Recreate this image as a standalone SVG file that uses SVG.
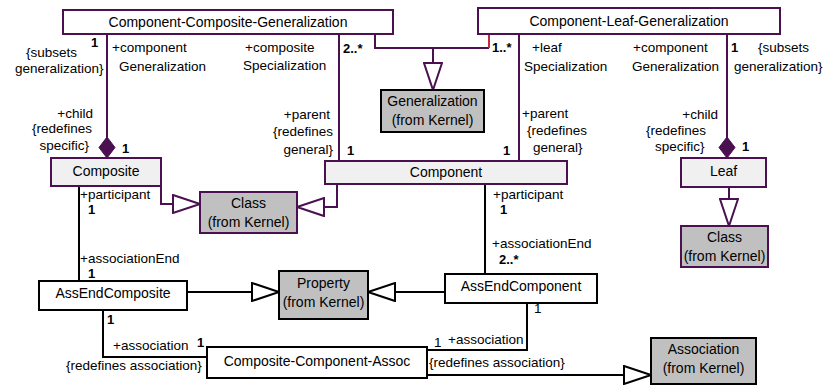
<svg xmlns="http://www.w3.org/2000/svg" width="833" height="385" viewBox="0 0 833 385">
<style>
text{font-family:"Liberation Sans",Arial,sans-serif;fill:#000}
.n{font-size:14px;text-anchor:middle}
.l{font-size:13.5px}
.e{text-anchor:end}
.m{font-size:13px;font-weight:bold}
.box{stroke-width:2}
.pw{fill:#fff;stroke:#4a1050}
.pl{fill:#f0f0f0;stroke:#4a1050}
.pg{fill:#c0c0c0;stroke:#4a1050}
.bw{fill:#fff;stroke:#000}
.bg{fill:#c0c0c0;stroke:#000}
.p{fill:none;stroke:#4a1050;stroke-width:2}
.b{fill:none;stroke:#000;stroke-width:2}
</style>
<defs>
<marker id="triP" markerUnits="userSpaceOnUse" viewBox="-1 -1 29 20" refX="27" refY="9" markerWidth="29" markerHeight="20" orient="auto">
<path d="M0,0 L27,9 L0,18 Z" fill="#fff" stroke="#4a1050" stroke-width="2"/>
</marker>
<marker id="triB" markerUnits="userSpaceOnUse" viewBox="-1 -1 29 20" refX="27" refY="9" markerWidth="29" markerHeight="20" orient="auto">
<path d="M0,0 L27,9 L0,18 Z" fill="#fff" stroke="#000" stroke-width="2"/>
</marker>
<marker id="diaP" markerUnits="userSpaceOnUse" viewBox="-1 -1 23 18" refX="21" refY="8" markerWidth="23" markerHeight="18" orient="auto">
<path d="M0,8 L10.5,0 L21,8 L10.5,16 Z" fill="#4a1050" stroke="#4a1050" stroke-width="1"/>
</marker>
</defs>

<g id="connectors">
<path class="p" d="M107,34 V158" marker-end="url(#diaP)"/>
<path class="p" d="M339,34 V161"/>
<path class="p" d="M375,34 V48 H489"/>
<path d="M489,48 V34" fill="none" stroke="#c8283c" stroke-width="2"/>
<path class="p" d="M433,48 V90" marker-end="url(#triP)"/>
<path class="p" d="M519,34 V161"/>
<path class="p" d="M727,34 V158" marker-end="url(#diaP)"/>
<path class="p" d="M161,186 V204 H200" marker-end="url(#triP)"/>
<path class="p" d="M337,184 V207 H297" marker-end="url(#triP)"/>
<path class="p" d="M729,187 V226" marker-end="url(#triP)"/>
<path class="b" d="M79,186 V281"/>
<path class="b" d="M485,184 V274"/>
<path class="b" d="M187,292 H279" marker-end="url(#triB)"/>
<path class="b" d="M445,292 H368" marker-end="url(#triB)"/>
<path class="b" d="M103,310 V357 H207"/>
<path class="b" d="M527,303 V350 H427"/>
<path class="b" d="M427,375 H651" marker-end="url(#triB)"/>
</g>

<g id="ccg">
<rect class="box pw" x="63" y="10" width="330" height="24"/>
<text class="n" x="228" y="27">Component-Composite-Generalization</text>
</g>
<g id="clg">
<rect class="box pw" x="478" y="8" width="302" height="26"/>
<text class="n" x="629" y="26">Component-Leaf-Generalization</text>
</g>
<g id="generalization">
<rect class="box bg" x="381" y="90" width="103" height="42"/>
<text class="n" x="432.5" y="106">Generalization</text>
<text class="n" x="432.5" y="125">(from Kernel)</text>
</g>
<g id="composite">
<rect class="box pl" x="51" y="158" width="110" height="28"/>
<text class="n" x="106" y="176">Composite</text>
</g>
<g id="class1">
<rect class="box pg" x="200" y="192" width="97" height="41"/>
<text class="n" x="248.5" y="208">Class</text>
<text class="n" x="248.5" y="227">(from Kernel)</text>
</g>
<g id="component">
<rect class="box pl" x="325" y="161" width="242" height="23"/>
<text class="n" x="446" y="177">Component</text>
</g>
<g id="leaf">
<rect class="box pl" x="681" y="158" width="85" height="29"/>
<text class="n" x="723.5" y="176">Leaf</text>
</g>
<g id="class2">
<rect class="box pg" x="681" y="226" width="87" height="41"/>
<text class="n" x="724.5" y="242">Class</text>
<text class="n" x="724.5" y="261">(from Kernel)</text>
</g>
<g id="assEndComposite">
<rect class="box bw" x="39" y="281" width="148" height="29"/>
<text class="n" x="113" y="298">AssEndComposite</text>
</g>
<g id="property">
<rect class="box bg" x="279" y="271" width="89" height="48"/>
<text class="n" x="323.5" y="288">Property</text>
<text class="n" x="323.5" y="307">(from Kernel)</text>
</g>
<g id="assEndComponent">
<rect class="box bw" x="445" y="274" width="152" height="29"/>
<text class="n" x="521" y="291">AssEndComponent</text>
</g>
<g id="cca">
<rect class="box bw" x="207" y="347" width="220" height="31"/>
<text class="n" x="317" y="366">Composite-Component-Assoc</text>
</g>
<g id="association">
<rect class="box bg" x="651" y="338" width="105" height="46"/>
<text class="n" x="703.5" y="354">Association</text>
<text class="n" x="703.5" y="373">(from Kernel)</text>
</g>

<g id="labels">
<text class="l" x="26" y="57">{subsets</text>
<text class="l" x="15" y="73">generalization}</text>
<text class="m" x="91" y="47">1</text>
<text class="l" x="112" y="52">+component</text>
<text class="l" x="119" y="71">Generalization</text>
<text class="l" x="245" y="52">+composite</text>
<text class="l" x="243" y="70">Specialization</text>
<text class="m" x="343" y="53">2..*</text>
<text class="m" x="492" y="52">1..*</text>
<text class="l" x="532" y="52">+leaf</text>
<text class="l" x="524" y="71">Specialization</text>
<text class="l" x="633" y="52">+component</text>
<text class="l" x="632" y="71">Generalization</text>
<text class="m" x="731" y="52">1</text>
<text class="l" x="758" y="52">{subsets</text>
<text class="l" x="734" y="71">generalization}</text>

<text class="l e" x="93" y="118">+child</text>
<text class="l e" x="92" y="133">{redefines</text>
<text class="l e" x="89" y="150">specific}</text>
<text class="m" x="122" y="153">1</text>
<text class="l e" x="330" y="119">+parent</text>
<text class="l e" x="333" y="136">{redefines</text>
<text class="l e" x="333" y="154">general}</text>
<text class="m" x="347" y="155">1</text>
<text class="m" x="503" y="155">1</text>
<text class="l" x="522" y="118">+parent</text>
<text class="l" x="527" y="135">{redefines</text>
<text class="l" x="533" y="152">general}</text>
<text class="l e" x="718" y="119">+child</text>
<text class="l" x="646" y="135">{redefines</text>
<text class="l" x="655" y="151">specific}</text>
<text class="m" x="742" y="151">1</text>

<text class="l" x="80" y="199">+participant</text>
<text class="m" x="88" y="214">1</text>
<text class="l" x="80" y="263">+associationEnd</text>
<text class="m" x="88" y="278">1</text>
<text class="l" x="493" y="199">+participant</text>
<text class="m" x="500" y="214">1</text>
<text class="l" x="492" y="248">+associationEnd</text>
<text class="m" x="499" y="264">2..*</text>

<text class="m" x="107" y="324">1</text>
<text class="l" x="113" y="350">+association</text>
<text class="m" x="197" y="347">1</text>
<text class="l" x="66" y="370">{redefines association}</text>
<text class="l" x="534" y="313">1</text>
<text class="l" x="434" y="347">1</text>
<text class="l" x="448" y="344">+association</text>
<text class="l" x="429" y="367">{redefines association}</text>
</g>
</svg>
